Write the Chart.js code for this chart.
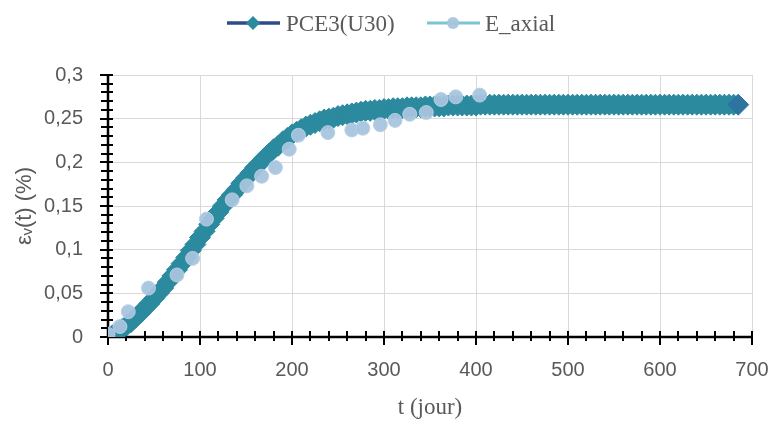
<!DOCTYPE html>
<html>
<head>
<meta charset="utf-8">
<script src="https://cdn.jsdelivr.net/npm/chart.js@4/dist/chart.umd.min.js"></script>
<style>
  html, body { margin: 0; padding: 0; background: #ffffff; }
  #wrap { width: 771px; height: 424px; }
</style>
</head>
<body>
<div id="wrap"><canvas id="c" width="771" height="424"></canvas></div>
<script>
// ---- data ----
const seriesNames = ["PCE3(U30)", "E_axial"];

const pceDays = [
  0,5,10,15,20,25,30,35,40,45,50,55,60,65,70,75,80,85,90,95,
  100,105,110,115,120,125,130,135,140,145,150,155,160,165,170,175,180,185,190,195,
  200,205,210,215,220,225,230,235,240,245,250,255,260,265,270,275,280,285,290,295,
  300,305,310,315,320,325,330,335,340,345,350,355,360,365,370,375,380,385,390,395,
  400,405,410,415,420,425,430,435,440,445,450,455,460,465,470,475,480,485,490,495,
  500,505,510,515,520,525,530,535,540,545,550,555,560,565,570,575,580,585,590,595,
  600,605,610,615,620,625,630,635,640,645,650,655,660,665,670,675,680,685
];
const pceStrain = [
  0.000,0.002,0.005,0.009,0.013,0.017,0.022,0.027,0.033,0.038,0.044,0.050,0.056,0.063,0.070,0.077,0.084,0.091,0.099,0.106,
  0.114,0.121,0.129,0.136,0.143,0.150,0.157,0.163,0.169,0.176,0.182,0.188,0.194,0.199,0.205,0.210,0.215,0.219,0.224,0.228,
  0.232,0.235,0.238,0.241,0.243,0.245,0.247,0.249,0.250,0.251,0.253,0.254,0.255,0.256,0.257,0.258,0.259,0.259,0.260,0.260,
  0.261,0.261,0.262,0.262,0.262,0.263,0.263,0.263,0.263,0.264,0.264,0.264,0.264,0.264,0.265,0.265,0.265,0.265,0.265,0.265,
  0.265,0.266,0.266,0.266,0.266,0.266,0.266,0.266,0.266,0.266,0.266,0.266,0.266,0.266,0.266,0.266,0.266,0.266,0.266,0.266,
  0.266,0.266,0.266,0.266,0.266,0.266,0.266,0.266,0.266,0.266,0.266,0.266,0.266,0.266,0.266,0.266,0.266,0.266,0.266,0.266,
  0.266,0.266,0.266,0.266,0.266,0.266,0.266,0.266,0.266,0.266,0.266,0.266,0.266,0.266,0.266,0.266,0.266,0.266
];

const expDays = [0,13,22,44,75,92,107,135,151,167,182,197,207,239,265,277,296,312,328,346,362,378,404];
const expStrain = [0.003,0.012,0.029,0.056,0.071,0.090,0.135,0.157,0.173,0.184,0.194,0.215,0.231,0.234,0.237,0.239,0.243,0.248,0.255,0.257,0.272,0.275,0.277];

const xTickValues = [0,100,200,300,400,500,600,700];
const yTickValues = [0,0.05,0.1,0.15,0.2,0.25,0.3];
const xTitle = "t (jour)";
const yTitle = "\u03B5\u1D65(t) (%)";

// ---- styles ----
const teal = "#2C8A9F";
const navy = "#2E4C8A";
const lightLine = "#7CC3D6";
const lightDot = "rgba(168,196,222,0.95)";
const textGrey = "#595959";
const sansFont = "'Liberation Sans', Arial, sans-serif";
const serifFont = "'Liberation Serif', 'DejaVu Serif', serif";

const pcePoints = pceDays.map((d, i) => ({x: d, y: pceStrain[i]}));
const expPoints = expDays.map((d, i) => ({x: d, y: expStrain[i]}));

// axis lines with crossing tick marks
const axisPlugin = {
  id: 'excelAxes',
  beforeDatasetsDraw(chart) {
    const ctx = chart.ctx;
    const xs = chart.scales.x, ys = chart.scales.y;
    const x0 = xs.getPixelForValue(0), x1 = xs.getPixelForValue(700);
    const y0 = ys.getPixelForValue(0), y1 = ys.getPixelForValue(0.3);
    ctx.save();
    ctx.strokeStyle = "#000";
    ctx.lineCap = "butt";
    ctx.lineWidth = 2;
    for (let v = 0; v <= 700; v += 20) {
      const px = Math.round(xs.getPixelForValue(v));
      const major = v % 100 === 0;
      ctx.beginPath();
      ctx.moveTo(px, y0 - 6);
      ctx.lineTo(px, y0 + (major ? 8 : 4));
      ctx.stroke();
    }
    for (let k = 0; k <= 30; k++) {
      const py = Math.round(ys.getPixelForValue(k / 100));
      const major = k % 5 === 0;
      ctx.beginPath();
      ctx.moveTo(x0 - (major ? 8 : 7), py);
      ctx.lineTo(x0 + 5, py);
      ctx.stroke();
    }
    ctx.lineWidth = 2.5;
    ctx.beginPath();
    ctx.moveTo(x0, y1);
    ctx.lineTo(x0, y0);
    ctx.lineTo(x1, y0);
    ctx.stroke();
    ctx.restore();
  }
};

// legend with line + marker, as in the original
const legendPlugin = {
  id: 'lineMarkerLegend',
  afterDraw(chart) {
    const ctx = chart.ctx;
    const ds = chart.data.datasets;
    const y = 23;
    ctx.save();
    ctx.font = "23px " + serifFont;
    ctx.textBaseline = "alphabetic";
    ctx.strokeStyle = navy; ctx.lineWidth = 3.5;
    ctx.beginPath(); ctx.moveTo(227, y); ctx.lineTo(280, y); ctx.stroke();
    ctx.fillStyle = teal;
    ctx.beginPath();
    ctx.moveTo(253, y - 7); ctx.lineTo(260, y); ctx.lineTo(253, y + 7); ctx.lineTo(246, y);
    ctx.closePath(); ctx.fill();
    ctx.fillStyle = textGrey;
    ctx.fillText(ds[0].label, 286, y + 8);
    ctx.strokeStyle = lightLine; ctx.lineWidth = 3;
    ctx.beginPath(); ctx.moveTo(427, y); ctx.lineTo(480, y); ctx.stroke();
    ctx.fillStyle = lightDot;
    ctx.beginPath(); ctx.arc(453, y, 6, 0, Math.PI * 2); ctx.fill();
    ctx.fillStyle = textGrey;
    ctx.fillText(ds[1].label, 485, y + 8);
    ctx.restore();
  }
};

const lastIdx = pcePoints.length - 1;

new Chart(document.getElementById('c'), {
  type: 'scatter',
  data: {
    datasets: [
      {
        label: seriesNames[0],
        data: pcePoints,
        showLine: true,
        borderColor: navy,
        borderWidth: 3,
        pointStyle: 'rectRot',
        pointRadius: 10.5,
        pointBorderWidth: 1,
        pointBackgroundColor: (c) => c.dataIndex === lastIdx ? "#2D74A0" : teal,
        pointBorderColor: (c) => c.dataIndex === lastIdx ? "#2D74A0" : teal,
        order: 2
      },
      {
        label: seriesNames[1],
        data: expPoints,
        showLine: false,
        pointStyle: 'circle',
        pointRadius: 7,
        pointBorderWidth: 1,
        pointBackgroundColor: lightDot,
        pointBorderColor: "rgba(185,208,230,0.9)",
        order: 1
      }
    ]
  },
  options: {
    responsive: false,
    animation: false,
    events: [],
    layout: { padding: { top: 75, right: 19, left: 0, bottom: 0 } },
    plugins: {
      legend: { display: false },
      tooltip: { enabled: false }
    },
    scales: {
      x: {
        type: 'linear',
        min: 0, max: 700,
        afterBuildTicks: (s) => { s.ticks = xTickValues.map(v => ({value: v})); },
        afterFit: (s) => { s.height = 87; s.paddingRight = 0; s.paddingLeft = 0; },
        grid: { color: "#D9D9D9", lineWidth: 1, drawTicks: false },
        border: { display: false },
        ticks: {
          padding: 21,
          color: textGrey,
          font: { family: sansFont, size: 20 },
          maxRotation: 0,
          callback: (v) => String(v)
        },
        title: {
          display: true, text: xTitle, color: textGrey,
          font: { family: serifFont, size: 23 },
          padding: { top: 0, bottom: 2 }
        }
      },
      y: {
        type: 'linear',
        min: 0, max: 0.3,
        afterBuildTicks: (s) => { s.ticks = yTickValues.map(v => ({value: v})); },
        afterFit: (s) => { s.width = 108; s.paddingTop = 0; s.paddingBottom = 0; },
        grid: { color: "#D9D9D9", lineWidth: 1, drawTicks: false },
        border: { display: false },
        ticks: {
          padding: 25,
          color: textGrey,
          font: { family: sansFont, size: 20 },
          callback: (v) => String(Number(v.toFixed(2))).replace('.', ',')
        },
        title: {
          display: true, text: yTitle, color: textGrey,
          font: { family: sansFont, size: 22 },
          padding: { top: 12, bottom: 0 }
        }
      }
    }
  },
  plugins: [axisPlugin, legendPlugin]
});
</script>
</body>
</html>
